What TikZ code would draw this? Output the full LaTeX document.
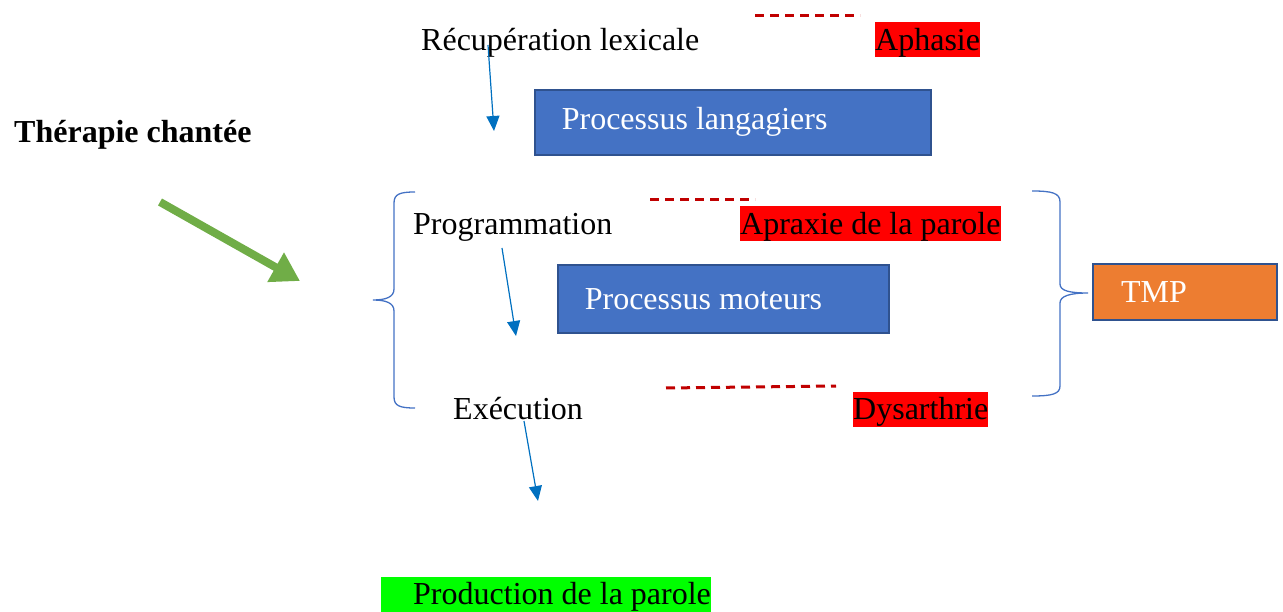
\documentclass[tikz,border=0pt]{standalone}
\usepackage{fontspec}
\setmainfont{Liberation Serif}
\usetikzlibrary{arrows.meta}
\definecolor{bluearrow}{HTML}{0070C0}
\definecolor{boxblue}{HTML}{4472C4}
\definecolor{boxborder}{HTML}{2F528F}
\definecolor{orangebox}{HTML}{ED7D31}
\definecolor{greenarrow}{HTML}{70AD47}
\definecolor{dashred}{HTML}{C00000}
\definecolor{brightred}{HTML}{FF0000}
\definecolor{brightgreen}{HTML}{00FF00}
\tikzset{
  txt/.style={font=\fontsize{32}{38}\selectfont, inner sep=0pt, text height=28pt, text depth=7pt, anchor=west},
  redlbl/.style={txt, fill=brightred, text=black},
  bluebox/.style={draw=boxborder, line width=1.6pt, fill=boxblue, text=white, font=\fontsize{32}{38}\selectfont, anchor=north west, inner ysep=0pt, inner xsep=0pt},
  smallarrow/.style={draw=bluearrow, line width=1.2pt, -{Triangle[length=15pt,width=13pt]}},
  dashline/.style={draw=dashred, line width=3pt, dash pattern=on 9pt off 6pt},
  bracestyle/.style={draw=boxblue, line width=1.3pt},
}
\begin{document}
\begin{tikzpicture}[x=1pt,y=-1pt]
\useasboundingbox (0,0) rectangle (1283,612);

% left title
\node[txt, font=\bfseries\fontsize{32}{38}\selectfont] (ther) at (14,132) {Thérapie chantée};

% green arrow
\coordinate (g1) at (160,202);
\coordinate (g2) at (300,281);
\draw[greenarrow, line width=8pt, -{Triangle[length=28pt,width=32pt]}] (g1) -- (g2);

% top row
\node[txt] (recup) at (421,40) {Récupération lexicale};
\coordinate (d1a) at (755,16);
\coordinate (d1b) at (860,16);
\draw[dashline] (d1a) -- (d1b);
\node[redlbl] (aph) at (875,40) {Aphasie};

\coordinate (a1s) at (488,45);
\coordinate (a1e) at (494,131);
\draw[smallarrow] (a1s) -- (a1e);

\node[bluebox, minimum width=396pt, minimum height=65pt] (lang) at (534,89) {\makebox[396pt][l]{\hspace*{27pt}Processus langagiers}};

% middle
\draw[bracestyle] (415,192) .. controls (400,192) and (394,194) .. (394,203) -- (394,289) .. controls (394,297) and (386,300) .. (373,300) .. controls (386,300) and (394,303) .. (394,311) -- (394,397) .. controls (394,406) and (400,408) .. (415,408);

\node[txt] (prog) at (413,224) {Programmation};
\coordinate (d2a) at (650,200);
\coordinate (d2b) at (755,200);
\draw[dashline] (d2a) -- (d2b);
\node[redlbl] (apr) at (740,224) {Apraxie de la parole};

\coordinate (a2s) at (502,248);
\coordinate (a2e) at (516,336);
\draw[smallarrow] (a2s) -- (a2e);

\node[bluebox, minimum width=331pt, minimum height=68pt] (mot) at (557,264) {\makebox[331pt][l]{\hspace*{27pt}Processus moteurs}};

\draw[bracestyle] (1032,191) .. controls (1052,191) and (1060,193) .. (1060,202) -- (1060,284) .. controls (1060,291) and (1070,293) .. (1088,293) .. controls (1070,293) and (1060,296) .. (1060,303) -- (1060,386) .. controls (1060,394) and (1052,396) .. (1032,396);

\node[draw=boxborder, line width=2pt, fill=orangebox, text=white, font=\fontsize{32}{38}\selectfont, anchor=north west, minimum width=184pt, minimum height=56pt, inner sep=0pt] (tmp) at (1092,263) {\makebox[184pt][l]{\hspace*{28pt}TMP}};

% bottom
\node[txt] (exec) at (453,409) {Exécution};
\coordinate (d3a) at (666,388);
\coordinate (d3b) at (836,386);
\draw[dashline] (d3a) -- (d3b);
\node[redlbl] (dys) at (853,409) {Dysarthrie};

\coordinate (a3s) at (524,421);
\coordinate (a3e) at (538,501);
\draw[smallarrow] (a3s) -- (a3e);

\node[txt, fill=brightgreen] (prod) at (381,594) {\makebox[330pt][l]{\hspace*{32pt}Production de la parole}};
\end{tikzpicture}
\end{document}
